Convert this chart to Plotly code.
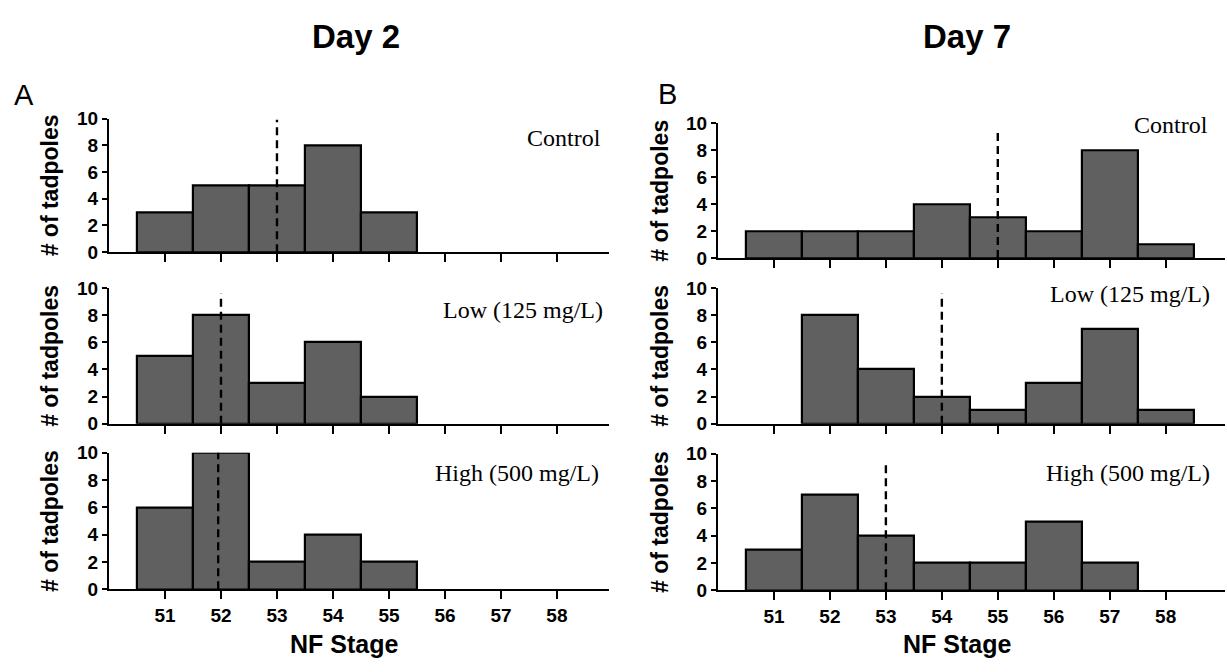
import plotly.graph_objects as go

W, H = 1227, 672

# ---------------- data ----------------
stages_day2 = [51, 52, 53, 54, 55]
stages_day7 = [51, 52, 53, 54, 55, 56, 57, 58]
day2_control = [3, 5, 5, 8, 3]
day2_low = [5, 8, 3, 6, 2]
day2_high = [6, 10, 2, 4, 2]
day7_control = [2, 2, 2, 4, 3, 2, 8, 1]
day7_low = [0, 8, 4, 2, 1, 3, 7, 1]
day7_high = [3, 7, 4, 2, 2, 5, 2, 0]
dash_x = [53.0, 52.0, 51.95, 55.0, 54.0, 53.0]
dash_top = [9.9, 9.6, 10.5, 9.6, 9.6, 9.5]
tick_vals = [51, 52, 53, 54, 55, 56, 57, 58]
tick_text = ["51", "52", "53", "54", "55", "56", "57", "58"]
y_ticks = [0, 2, 4, 6, 8, 10]
group_labels = ["Control", "Low (125 mg/L)", "High (500 mg/L)",
                "Control", "Low (125 mg/L)", "High (500 mg/L)"]

series = [(stages_day2, day2_control), (stages_day2, day2_low), (stages_day2, day2_high),
          (stages_day7, day7_control), (stages_day7, day7_low), (stages_day7, day7_high)]

# ---------------- layout geometry (pixels) ----------------
def px(x):
    return x / W

def py(y):
    return 1 - y / H

xspan = [(109, 609)] * 3 + [(718, 1225)] * 3
xrange_ = [[50, 58.93]] * 3 + [[50, 59.06]] * 3
yspan = [(112, 250), (287, 427), (457, 598), (117, 256), (287, 427), (458, 599)]
label_pos = [(603, 132), (605, 310), (601, 478), (1210, 119), (1212, 293), (1212, 478)]

fig = go.Figure()
SANS = "Liberation Sans, Arial, sans-serif"
SERIF = "Liberation Serif, Times New Roman, serif"

for i, ((xs, ys), lbl) in enumerate(zip(series, group_labels)):
    n = i + 1
    xa = "x" if n == 1 else f"x{n}"
    ya = "y" if n == 1 else f"y{n}"
    fig.add_trace(go.Bar(x=xs, y=ys, width=1, xaxis=xa, yaxis=ya,
                         marker=dict(color="#606060",
                                     line=dict(color="black",
                                               width=[2.2 if v > 0 else 0 for v in ys])),
                         cliponaxis=False, showlegend=False))
    fig.add_trace(go.Scatter(x=[dash_x[i], dash_x[i]], y=[0, dash_top[i]], mode="lines",
                             xaxis=xa, yaxis=ya, cliponaxis=False, showlegend=False,
                             line=dict(color="black", width=2.4, dash="8px,5px")))
    bottom = i in (2, 5)
    xkey = "xaxis" if n == 1 else f"xaxis{n}"
    ykey = "yaxis" if n == 1 else f"yaxis{n}"
    fig.layout[xkey] = dict(
        domain=[px(xspan[i][0]), px(xspan[i][1])], range=xrange_[i], anchor=ya,
        showline=True, linecolor="black", linewidth=2.2, ticks="outside", ticklen=8,
        tickwidth=2.2, tickcolor="black", tickvals=tick_vals,
        ticktext=tick_text if bottom else [""] * len(tick_vals),
        showticklabels=bottom, showgrid=False, zeroline=False,
        tickfont=dict(family=SANS, size=19, color="black", weight="bold"))
    fig.layout[ykey] = dict(
        domain=[py(yspan[i][1]), py(yspan[i][0])], range=[0, 10], anchor=xa,
        showline=True, linecolor="black", linewidth=2.2, ticks="outside", ticklen=5,
        tickwidth=2.2, tickcolor="black", tickvals=y_ticks, showgrid=False, zeroline=False,
        tickfont=dict(family=SANS, size=19, color="black", weight="bold"))
    ycenter = (yspan[i][0] + yspan[i][1]) / 2
    fig.add_annotation(text="# of tadpoles", xref="paper", yref="paper",
                       x=px(50 if i < 3 else 660), y=py(ycenter), textangle=-90,
                       showarrow=False, xanchor="center", yanchor="middle",
                       font=dict(family=SANS, size=23, color="black", weight="bold"))
    lx, ly = label_pos[i]
    fig.add_annotation(text=lbl, xref="paper", yref="paper", x=px(lx), y=py(ly),
                       showarrow=False, xanchor="right", yanchor="middle",
                       font=dict(family=SERIF, size=24, color="black"))

for txt, x, y in [("Day 2", 356, 27), ("Day 7", 967, 27)]:
    fig.add_annotation(text=txt, xref="paper", yref="paper", x=px(x), y=py(y),
                       showarrow=False, xanchor="center", yanchor="middle",
                       font=dict(family=SANS, size=33, color="black", weight="bold"))
for txt, x, y in [("A", 24, 88), ("B", 667, 87)]:
    fig.add_annotation(text=txt, xref="paper", yref="paper", x=px(x), y=py(y),
                       showarrow=False, xanchor="center", yanchor="middle",
                       font=dict(family=SANS, size=29, color="black"))
for x in (344, 957):
    fig.add_annotation(text="NF Stage", xref="paper", yref="paper", x=px(x), y=py(654),
                       showarrow=False, xanchor="center", yanchor="middle",
                       font=dict(family=SANS, size=25, color="black", weight="bold"))

fig.update_layout(width=W, height=H, margin=dict(l=0, r=0, t=0, b=0),
                  paper_bgcolor="white", plot_bgcolor="white", bargap=0)
fig.write_html("out.html")
